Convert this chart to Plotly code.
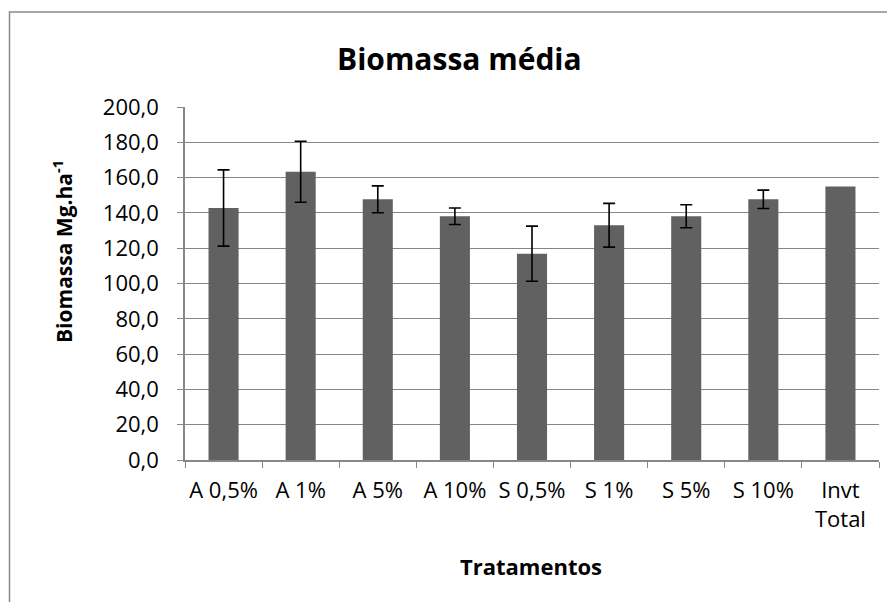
import plotly.graph_objects as go

categories = ["A 0,5%", "A 1%", "A 5%", "A 10%", "S 0,5%", "S 1%", "S 5%", "S 10%", "Invt<br>Total"]
biomassa = [142.8, 163.3, 147.7, 138.1, 116.9, 133.0, 138.1, 147.7, 154.9]
erro = [21.6, 17.3, 7.6, 4.7, 15.6, 12.4, 6.5, 5.2]  # no error bar for "Invt Total"
y_ticks = [0, 20, 40, 60, 80, 100, 120, 140, 160, 180, 200]
y_tick_labels = ["0,0", "20,0", "40,0", "60,0", "80,0", "100,0", "120,0", "140,0", "160,0", "180,0", "200,0"]

# page body has an 8px default margin; work in window coordinates
OFF = 8
WIN_W, WIN_H = 895, 602
W, H = WIN_W - OFF, WIN_H - OFF
PL, PR, PT, PB = 185, 879, 107, 460  # plot area in window px
L, R, T, B = PL - OFF, WIN_W - PR, PT - OFF, WIN_H - PB
pw, ph = PR - PL, PB - PT

def px(x):
    return (x - PL) / pw

def py(y):
    return (PB - y) / ph

FONT = "Open Sans"
GRAY = "#878787"
BAR = "#616161"

n_err = len(erro)
fig = go.Figure()
fig.add_trace(go.Bar(
    x=categories[:n_err], y=biomassa[:n_err],
    marker=dict(color=BAR, line=dict(width=0)),
    error_y=dict(type="data", array=erro, visible=True, color="black", thickness=1.6, width=6),
    width=0.39,
))
fig.add_trace(go.Bar(
    x=categories[n_err:], y=biomassa[n_err:],
    marker=dict(color=BAR, line=dict(width=0)),
    width=0.39,
))

fig.update_layout(
    width=W, height=H,
    barmode="overlay",
    margin=dict(l=L, r=R, t=T, b=B, pad=0),
    paper_bgcolor="white", plot_bgcolor="white",
    showlegend=False,
    font=dict(family=FONT, color="black"),
    xaxis=dict(
        type="category", categoryorder="array", categoryarray=categories,
        tickson="boundaries", ticks="outside", ticklen=6,
        tickcolor=GRAY, showline=True, linecolor=GRAY, linewidth=1.5,
        showgrid=False, tickfont=dict(size=22, family=FONT), tickangle=0,
        range=[-0.5, 8.5], ticklabelstandoff=10,
    ),
    yaxis=dict(
        range=[0, 200], tickvals=y_ticks, ticktext=y_tick_labels,
        ticks="outside", ticklen=6, tickcolor=GRAY, showline=True,
        linecolor=GRAY, linewidth=1.5, showgrid=True, gridcolor=GRAY,
        gridwidth=1.2, zeroline=False, tickfont=dict(size=22, family=FONT),
        ticklabelstandoff=14,
    ),
    shapes=[dict(type="rect", xref="paper", yref="paper",
                 x0=px(9.5), x1=px(WIN_W + 20), y0=py(WIN_H + 20), y1=py(12),
                 line=dict(color="#8a8a8a", width=1.5), fillcolor="rgba(0,0,0,0)", layer="below")],
    annotations=[
        dict(text="<b>Biomassa média</b>", xref="paper", yref="paper", x=px(459), y=py(58),
             xanchor="center", yanchor="middle", showarrow=False, font=dict(size=30, family=FONT)),
        dict(text="<b>Biomassa Mg.ha<sup>-1</sup></b>", xref="paper", yref="paper", x=px(62), y=py(252),
             xanchor="center", yanchor="middle", showarrow=False, textangle=-90,
             font=dict(size=21, family=FONT)),
        dict(text="<b>Tratamentos</b>", xref="paper", yref="paper", x=px(531), y=py(566),
             xanchor="center", yanchor="middle", showarrow=False, font=dict(size=22, family=FONT)),
    ],
)

fig.write_html("out.html")
